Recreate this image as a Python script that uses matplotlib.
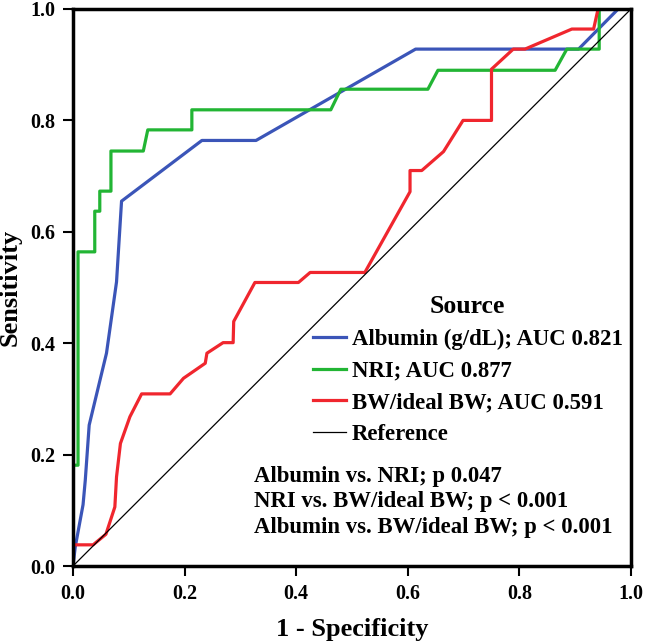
import matplotlib
matplotlib.use("Agg")
import matplotlib.pyplot as plt

# ROC curve points
albumin_x = [0, 0.004, 0.018, 0.022, 0.029, 0.060, 0.078, 0.087, 0.231, 0.328, 0.614, 0.906, 0.977, 1.0]
albumin_y = [0, 0.034, 0.110, 0.154, 0.253, 0.382, 0.510, 0.655, 0.764, 0.764, 0.928, 0.928, 1.0, 1.0]

nri_x = [0, 0, 0.009, 0.009, 0.039, 0.039, 0.048, 0.048, 0.068, 0.068, 0.126, 0.134,
         0.213, 0.213, 0.462, 0.480, 0.636, 0.654, 0.864, 0.885, 0.943, 0.943, 1.0]
nri_y = [0, 0.181, 0.181, 0.564, 0.564, 0.637, 0.637, 0.673, 0.673, 0.745, 0.745, 0.783,
         0.783, 0.819, 0.819, 0.856, 0.856, 0.890, 0.890, 0.928, 0.928, 1.0, 1.0]

bw_x = [0, 0, 0.036, 0.059, 0.075, 0.078, 0.085, 0.102, 0.123, 0.174,
        0.198, 0.237, 0.240, 0.269, 0.287, 0.288, 0.326, 0.404, 0.425, 0.523,
        0.604, 0.604, 0.625, 0.664, 0.699, 0.750, 0.750, 0.789, 0.810, 0.894,
        0.933, 0.941, 1.0]
bw_y = [0, 0.038, 0.038, 0.057, 0.106, 0.160, 0.220, 0.268, 0.309, 0.309,
        0.337, 0.364, 0.382, 0.401, 0.401, 0.439, 0.509, 0.509, 0.527, 0.527,
        0.672, 0.710, 0.710, 0.744, 0.800, 0.800, 0.892, 0.928, 0.928, 0.964,
        0.964, 1.0, 1.0]

ref_x = [0, 1]
ref_y = [0, 1]

labels = ["Albumin (g/dL); AUC 0.821", "NRI; AUC 0.877", "BW/ideal BW; AUC 0.591", "Reference"]
stats = ["Albumin vs. NRI; p 0.047",
         "NRI vs. BW/ideal BW; p < 0.001",
         "Albumin vs. BW/ideal BW; p < 0.001"]
ticks = [0.0, 0.2, 0.4, 0.6, 0.8, 1.0]

plt.rcParams['font.family'] = ['Liberation Serif', 'DejaVu Serif']
plt.rcParams['font.weight'] = 'bold'

W, H = 646, 643
fig = plt.figure(figsize=(W / 100, H / 100), dpi=100)
ax = fig.add_axes([73 / W, 1 - 566 / H, 558 / W, 557 / H])

ax.plot(albumin_x, albumin_y, color='#3b55b8', lw=2.3, label=labels[0])
ax.plot(nri_x, nri_y, color='#22b534', lw=2.3, label=labels[1])
ax.plot(bw_x, bw_y, color='#f0262e', lw=2.3, label=labels[2])
ax.plot(ref_x, ref_y, color='black', lw=0.9, label=labels[3])

ax.set_xlim(0, 1)
ax.set_ylim(0, 1)
ax.set_xticks(ticks)
ax.set_yticks(ticks)
ax.set_xticklabels([f"{t:.1f}" for t in ticks])
ax.set_yticklabels([f"{t:.1f}" for t in ticks])
ax.tick_params(direction='out', length=7, width=1.5, labelsize=14.5, pad=6)
for s in ax.spines.values():
    s.set_linewidth(2.5)

ax.set_xlabel("1 - Specificity", fontsize=19, fontweight='bold', labelpad=10)
ax.set_ylabel("Sensitivity", fontsize=19, fontweight='bold', labelpad=6)

leg = ax.legend(loc='upper left', bbox_to_anchor=(313 / W, 1 - 295 / H),
                bbox_transform=fig.transFigure, frameon=False,
                title="Source", title_fontproperties={'size': 18.5, 'weight': 'bold'},
                prop={'size': 16.4, 'weight': 'bold'},
                handlelength=1.45, handletextpad=0.25, labelspacing=0.47,
                borderpad=0, borderaxespad=0)

fig.text(254 / W, 1 - 502 / H, "\n".join(stats), fontsize=16.4, fontweight='bold',
         ha='left', va='center', linespacing=1.3)

fig.savefig("out.png", dpi=100)
